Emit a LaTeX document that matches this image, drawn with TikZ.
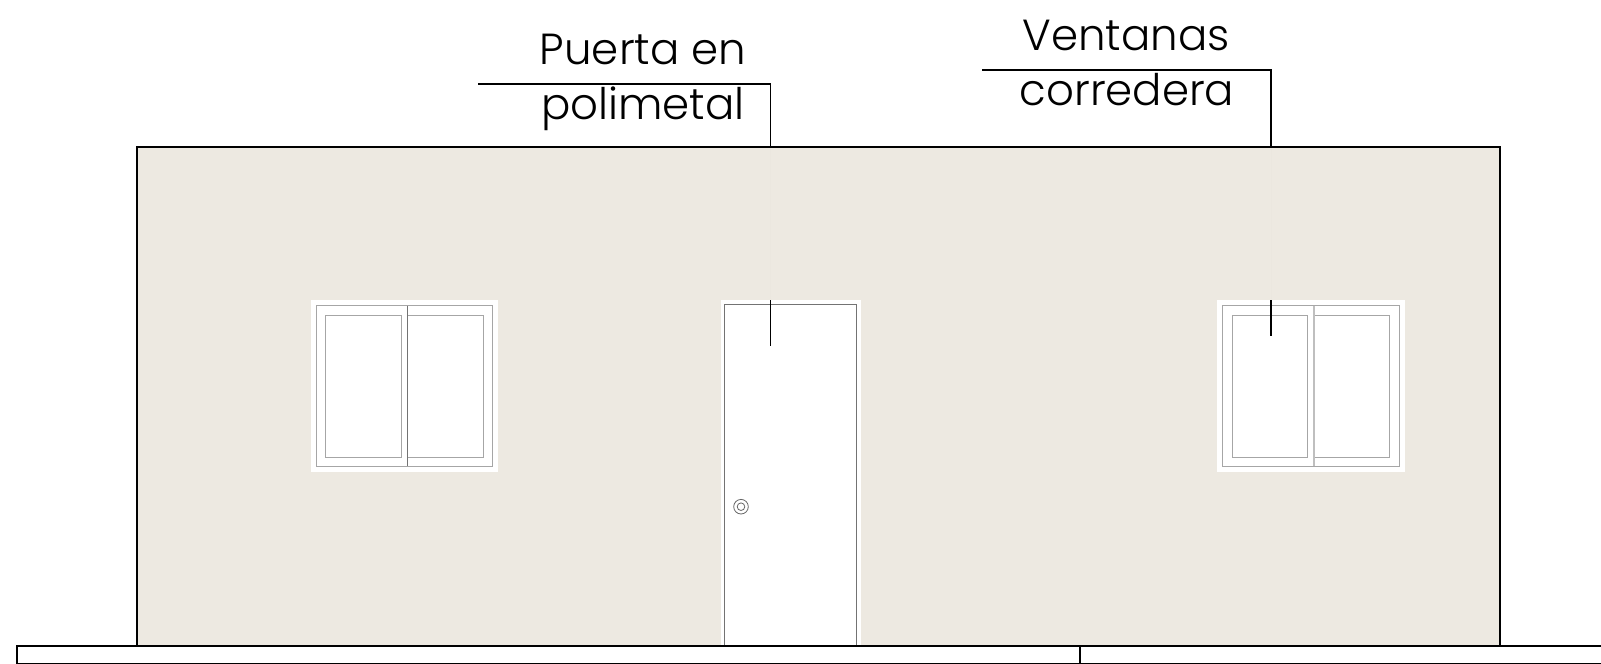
\documentclass[tikz,border=0pt]{standalone}
\usepackage{fontspec}
\setmainfont{Poppins Light}
\definecolor{wallc}{HTML}{EDE9E1}
\definecolor{faint}{HTML}{EBE7DF}
\tikzset{
  x=1pt,y=-1pt,
  heavy/.style={draw=black,line width=2pt},
  leader/.style={draw=black,line width=1.7pt},
  frame/.style={draw=black!35,line width=1pt},
  doorline/.style={draw=black!55,line width=1pt},
  opening/.style={fill=white,draw=none},
  ghost/.style={draw=faint,line width=.8pt},
  lab/.style={inner sep=0pt,anchor=base,font=\fontsize{43.5}{43.5}\selectfont,text=black},
}
\begin{document}
\begin{tikzpicture}
\useasboundingbox (0,0) rectangle (1601,663.5);
% wall
\fill[wallc] (136.5,146.5) rectangle (1500,646);
% openings
\fill[opening] (310.7,300) rectangle (498.3,472);
\fill[opening] (720.7,300) rectangle (860.7,646);
\fill[opening] (1216.7,300) rectangle (1405,472);
% left window
\draw[frame] (316.3,305.7) rectangle (492.7,466.3);
\draw[frame] (325.3,315) rectangle (401.3,457);
\draw[frame] (407.3,315) rectangle (483.3,457);
\draw[frame,draw=black!55] (407.3,305.7) -- (407.3,466.3);
% right window
\draw[frame] (1222.3,305.7) rectangle (1399,466.3);
\draw[frame] (1232,315) rectangle (1307.7,457);
\draw[frame] (1314,315) rectangle (1389.7,457);
\draw[frame,line width=1.4pt,draw=black!25] (1314,305.7) -- (1314,466.3);
% door
\draw[doorline] (724.3,646) -- (724.3,304) -- (856.5,304) -- (856.5,646);
\draw[draw=black!60,line width=.8pt] (741,506.7) circle (7.3) (741,506.7) circle (3.8);
% faint leader continuation
\coordinate (dTop) at (770.5,146.5);
\coordinate (dStub) at (770.5,300);
\coordinate (dEnd) at (770.5,346);
\coordinate (dCorner) at (770.5,84);
\coordinate (dFree) at (478,84);
\coordinate (wTop) at (1271,146.5);
\coordinate (wStub) at (1271,300);
\coordinate (wEnd) at (1271,336);
\coordinate (wCorner) at (1271,70);
\coordinate (wFree) at (982,70);
\draw[ghost] (dTop) -- (dStub);
\draw[ghost] (wTop) -- (wStub);
\draw[leader] (dStub) -- (dEnd);
\draw[leader] (wStub) -- (wEnd);
\draw[leader] (dFree) -- (dCorner) -- (dTop);
\draw[leader] (wFree) -- (wCorner) -- (wTop);
% wall outline
\draw[heavy] (136.5,646) -- (136.5,146.5) -- (1500,146.5) -- (1500,646);
% bottom strip
\draw[heavy] (1601,646) -- (17,646) -- (17,664.2) -- (1601,664.2);
\draw[heavy] (1080,646) -- (1080,664.2);
% labels
\node[lab] (p1) at (643,65) {Puerta en};
\node[lab] (p2) at (643,119) {polimetal};
\node[lab] (v1) at (1126,51) {Ventanas};
\node[lab] (v2) at (1127,105) {corredera};
\end{tikzpicture}
\end{document}
